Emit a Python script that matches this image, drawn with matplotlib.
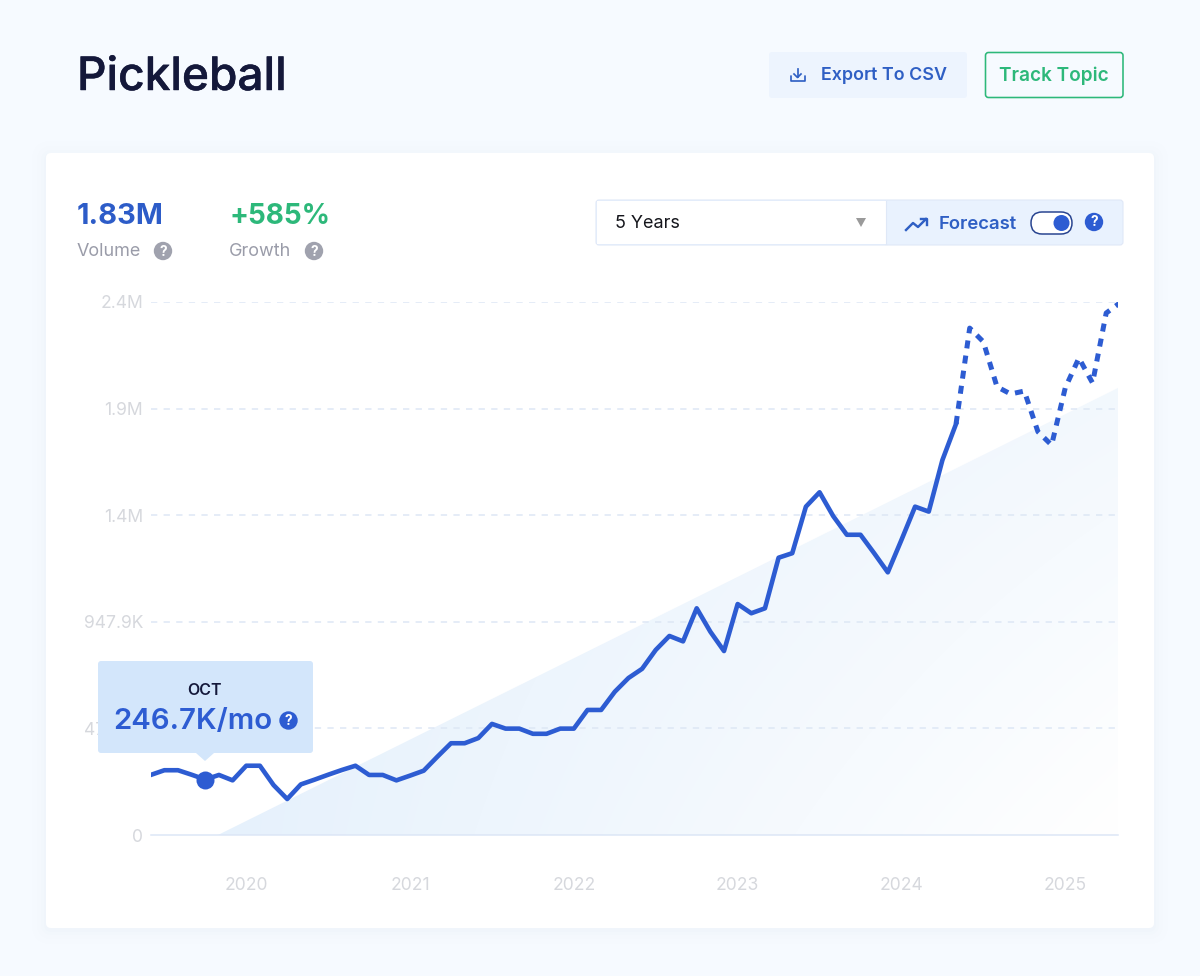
import numpy as np
import matplotlib
matplotlib.use("Agg")
import matplotlib.pyplot as plt
import matplotlib.patheffects as pe
from matplotlib.patches import FancyBboxPatch, Circle, Polygon, Rectangle

plt.rcParams['font.family'] = ['Inter', 'DejaVu Sans']

# ---- data (thousands of searches per month) ----
actual_months = list(range(0, 60))
actual_values = [267, 288, 288, 268, 246.7, 267, 243, 308, 308, 222, 160, 225, 246, 268, 289, 308,
                 267, 267, 243, 264, 286, 348, 408, 408, 431, 494, 473, 473, 450, 450, 473, 473,
                 556, 556, 637, 698, 739, 823, 885, 861, 1008, 904, 818, 1027, 986, 1008, 1233, 1253,
                 1460, 1524, 1418, 1335, 1335, 1253, 1168, 1312, 1460, 1438, 1667, 1828]
forecast_months = list(range(59, 72))
forecast_values = [1828, 2254, 2193, 1993, 1961, 1974, 1793, 1734, 1988, 2121, 2010, 2321, 2366]
trend_months = [4.93, 70.87]
trend_values = [0, 1988]
y_ticks = [0, 474, 947.9, 1422, 1896, 2370]
y_labels = ['0', '473.9K', '947.9K', '1.4M', '1.9M', '2.4M']
x_ticks = [7, 19, 31, 43, 55, 67]
x_labels = ['2020', '2021', '2022', '2023', '2024', '2025']
hover_month = 4
hover_value = 246.7

BLUE = '#2D5CD2'
GREEN = '#2DB87A'
W, H = 1200, 976

fig = plt.figure(figsize=(12, 9.76), dpi=100, facecolor='#F6FAFF')


def px(size):
    return size * 0.72


def overlay(z):
    a = fig.add_axes([0, 0, 1, 1], zorder=z)
    a.set_xlim(0, W)
    a.set_ylim(H, 0)
    a.axis('off')
    a.patch.set_alpha(0)
    return a


def rbox(a, x0, y0, x1, y1, r=3, fc='white', ec='none', lw=0, alpha=None, z=1):
    p = FancyBboxPatch((x0 + r, y0 + r), x1 - x0 - 2 * r, y1 - y0 - 2 * r,
                       boxstyle=f'round,pad={r},rounding_size={r}', fc=fc, ec=ec,
                       lw=lw, alpha=alpha, zorder=z)
    a.add_patch(p)
    return p


def qmark(a, x, y, color, r=9.2, z=5):
    a.add_patch(Circle((x, y), r, fc=color, ec='none', zorder=z))
    a.text(x, y + 0.5, '?', color='white', fontsize=px(r * 1.5), fontweight='bold',
           ha='center', va='center', zorder=z + 1)


bg = overlay(0)
# card with soft shadow
for grow, al in [(14, 0.007), (9, 0.009), (5, 0.012), (2, 0.014)]:
    rbox(bg, 46 - grow, 153 - grow + 2, 1154 + grow, 928 + grow + 2, r=6 + grow, fc='#8AA6D8', alpha=al, z=1)
rbox(bg, 46, 153, 1154, 928, r=5, fc='white', z=2)

# header
title = bg.text(77, 78, 'Pickleball', fontsize=px(46), fontweight='medium', color='#14183A', va='center', ha='left', zorder=5)
title.set_path_effects([pe.withStroke(linewidth=px(0.45), foreground='#14183A')])
rbox(bg, 769, 52, 967, 98, r=3, fc='#EDF4FE', z=3)
bg.plot([790.5, 790.5, 804.5, 804.5], [76, 81, 81, 76], color='#2F5FC4', lw=px(1.7), zorder=5, solid_capstyle='round')
bg.plot([797.5, 797.5], [69, 77], color='#2F5FC4', lw=px(1.7), zorder=5)
bg.plot([794, 797.5, 801], [74, 77.5, 74], color='#2F5FC4', lw=px(1.7), zorder=5)
bg.text(821, 76, 'Export To CSV', fontsize=px(17.9), fontweight='semibold', color='#2F5FC4', va='center', ha='left', zorder=5)
rbox(bg, 985.5, 52.5, 1123, 97.5, r=3, fc='none', ec=GREEN, lw=px(1.6), z=3)
bg.text(999, 76, 'Track Topic', fontsize=px(19), fontweight='semibold', color=GREEN, va='center', ha='left', zorder=5)

# stats
bg.text(77, 217, '1.83M', fontsize=px(29), fontweight='bold', color='#2D5CC8', va='center', ha='left', zorder=5)
bg.text(229, 217, '+585%', fontsize=px(28), fontweight='bold', color=GREEN, va='center', ha='left', zorder=5)
bg.text(77, 252, 'Volume', fontsize=px(18), color='#9A9CA9', va='center', ha='left', zorder=5)
bg.text(229, 252, 'Growth', fontsize=px(18), color='#9A9CA9', va='center', ha='left', zorder=5)
qmark(bg, 163, 251, '#A0A2AE')
qmark(bg, 314, 251, '#A0A2AE')

# selector
rbox(bg, 596, 200, 1123, 245, r=3, fc='#E9F2FE', ec='#DFE8F7', lw=px(1.1), z=3)
bg.add_patch(Rectangle((597, 201), 289, 43, fc='white', ec='none', zorder=4))
bg.plot([886, 886], [201, 244], color='#DFE8F7', lw=px(1.1), zorder=4)
bg.text(615, 223.5, '5 Years', fontsize=px(18), color='#15161C', va='center', ha='left', zorder=5)
bg.add_patch(Polygon([[856, 218], [866, 218], [861, 227]], fc='#9A9A9A', ec='none', zorder=5))
bg.plot([906, 913, 918, 926], [230, 223, 227, 219], color='#2F5FC4', lw=px(2.4), zorder=5)
bg.plot([920.5, 926.5, 926.5], [218.5, 218.5, 224.5], color='#2F5FC4', lw=px(2.4), zorder=5)
bg.text(939, 224.5, 'Forecast', fontsize=px(18.5), fontweight='semibold', color='#2F5FC4', va='center', ha='left', zorder=5)
rbox(bg, 1031, 212, 1072, 234, r=11, fc='white', ec='#26428F', lw=px(1.5), z=5)
bg.add_patch(Circle((1061.5, 223), 8, fc=BLUE, ec='none', zorder=6))
qmark(bg, 1094, 222, BLUE)

# ---- chart ----
X0, X1, Y0, Y1 = 150.7, 1118, 302, 835
ax = fig.add_axes([X0 / W, 1 - Y1 / H, (X1 - X0) / W, (Y1 - Y0) / H], zorder=1)
ax.patch.set_alpha(0)
xlim = (0, (X1 - X0) / 13.65)
ylim = (0, 2370)

# trend area with gradient fade (first image row is the bottom of the axes)
gx, gy = np.meshgrid(np.linspace(0, 1, 200), np.linspace(1, 0, 200))
t = np.clip(gx * (0.45 + 0.55 * gy), 0, 1)[..., None]
c0 = np.array([0xE4, 0xF0, 0xFC]) / 255
c1 = np.array([0xFF, 0xFF, 0xFF]) / 255
img = ax.imshow(c0 * (1 - t) + c1 * t, extent=(*xlim, *ylim), origin='lower', aspect='auto', zorder=0, interpolation='bilinear')
tri = Polygon([[trend_months[0], trend_values[0]], [trend_months[1], trend_values[1]], [trend_months[1], 0]],
              transform=ax.transData, fc='none', ec='none')
ax.add_patch(tri)
img.set_clip_path(tri)

ax.plot(actual_months, actual_values, color=BLUE, lw=px(4.6), solid_joinstyle='round', zorder=3)
ax.plot(forecast_months, forecast_values, color=BLUE, lw=px(5), linestyle=(0, (1.6, 1.45)), dash_capstyle='butt', zorder=3)
ax.plot([hover_month], [hover_value], 'o', color=BLUE, ms=px(18), mec='none', zorder=4, clip_on=False)

ax.set_xlim(*xlim)
ax.set_ylim(*ylim)
ax.set_yticks(y_ticks)
ax.set_yticklabels(y_labels)
ax.set_xticks(x_ticks)
ax.set_xticklabels(x_labels)
ax.tick_params(axis='both', length=0, labelsize=px(17.5), labelcolor='#D6D8DD')
ax.tick_params(axis='y', pad=5.5)
ax.tick_params(axis='x', pad=30)
ax.set_axisbelow(True)
ax.yaxis.grid(True, color='#DDE7F5', lw=px(1.5), linestyle=(0, (4.2, 4.2)))
ax.xaxis.grid(False)
for g in ax.yaxis.get_gridlines()[:1]:
    g.set_visible(False)
for s in ['top', 'left', 'right']:
    ax.spines[s].set_visible(False)
ax.spines['bottom'].set_color('#DCE6F6')
ax.spines['bottom'].set_linewidth(px(1.5))

# tooltip
top = overlay(2)
rbox(top, 98, 661, 313, 753, r=3, fc='#D3E6FB', z=2)
top.add_patch(Polygon([[196, 753], [214, 753], [205, 761]], fc='#D3E6FB', ec='none', zorder=2))
top.text(204.5, 690.5, 'OCT', fontsize=px(16), fontweight='semibold', color='#14183A', va='center', ha='center', zorder=3)
top.text(113, 722, '246.7K/mo', fontsize=px(29.4), fontweight='semibold', color=BLUE, va='center', ha='left', zorder=3)
qmark(top, 288.5, 720.5, BLUE)

fig.savefig('out.png', dpi=100, facecolor=fig.get_facecolor())
